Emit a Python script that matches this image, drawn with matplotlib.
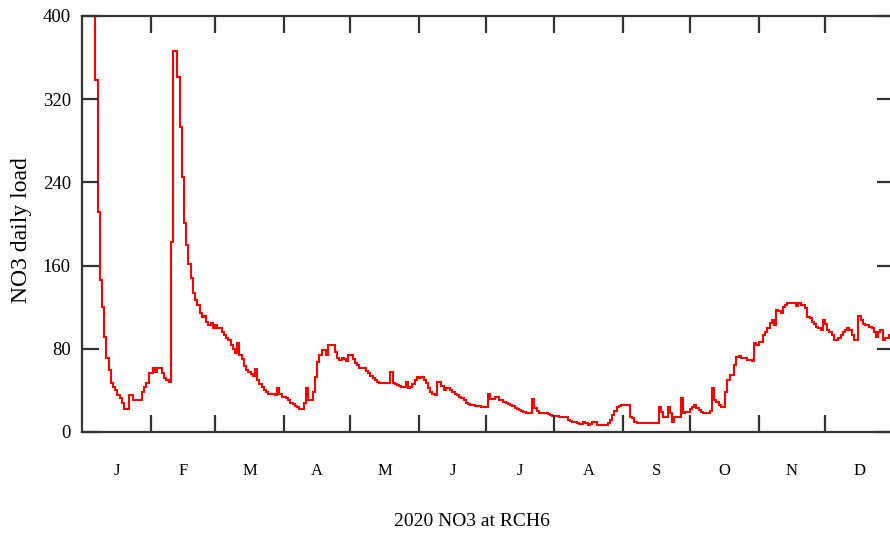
import numpy as np
import matplotlib
matplotlib.use("Agg")
import matplotlib.pyplot as plt

plt.rcParams['font.family'] = ['Liberation Serif', 'DejaVu Serif']

# daily NO3 load at RCH6, 2020 (values >400 are clipped)
jan = [620, 560, 510, 470, 440, 410, 338, 212, 146, 120, 91, 71, 60, 47, 43, 40,
       36, 33, 28, 22, 22, 36, 36, 31, 31, 31, 31, 38, 43, 47, 57]
feb = [57, 62, 58, 62, 62, 57, 52, 50, 48, 183, 366, 366, 341, 293, 245, 201,
       180, 162, 148, 134, 127, 122, 114, 111, 112, 106, 103, 105, 100]
mar = [103, 100, 100, 96, 93, 90, 88, 84, 80, 76, 86, 74, 70, 63, 60, 58, 56,
       54, 61, 50, 46, 43, 40, 38, 37, 37, 37, 36, 42, 37, 34]
apr = [34, 33, 31, 28, 27, 25, 24, 22, 22, 28, 42, 31, 31, 38, 53, 67, 74, 79,
       79, 74, 84, 84, 84, 77, 71, 69, 71, 70, 68, 74]
may = [74, 70, 66, 64, 62, 62, 62, 59, 57, 54, 52, 50, 48, 47, 47, 47, 47, 47,
       58, 47, 46, 45, 44, 43, 43, 48, 42, 43, 46, 50, 53]
jun = [52, 53, 50, 47, 42, 38, 37, 36, 48, 48, 44, 40, 42, 42, 40, 38, 37, 36,
       34, 33, 31, 28, 27, 26, 26, 25, 25, 25, 24, 24]
jul = [24, 37, 32, 32, 34, 34, 31, 31, 29, 28, 27, 26, 25, 23, 22, 21, 20, 19,
       18, 18, 18, 32, 23, 20, 18, 18, 18, 18, 17, 16, 15]
aug = [15, 15, 14, 14, 14, 14, 12, 11, 10, 10, 9, 8, 8, 10, 9, 7, 8, 10, 10, 7,
       7, 7, 7, 7, 9, 12, 16, 20, 24, 25, 26]
sep = [26, 26, 26, 14, 13, 10, 9, 9, 9, 9, 9, 9, 9, 9, 9, 9, 24, 19, 14, 14, 24,
       18, 10, 14, 14, 14, 33, 18, 19, 19]
oct_ = [22, 24, 26, 23, 21, 19, 18, 18, 18, 20, 42, 31, 29, 26, 24, 24, 38, 50,
        55, 55, 64, 72, 73, 71, 71, 71, 69, 69, 68, 86, 84]
nov = [87, 87, 93, 96, 100, 105, 108, 103, 117, 116, 114, 120, 122, 124, 124,
       124, 124, 121, 124, 122, 122, 119, 111, 110, 106, 104, 101, 100, 98, 108]
dec = [104, 98, 96, 93, 88, 88, 90, 93, 96, 98, 100, 98, 93, 88, 88, 112, 108,
       104, 103, 103, 101, 100, 96, 91, 96, 98, 88, 90, 90, 93, 93]

months = [jan, feb, mar, apr, may, jun, jul, aug, sep, oct_, nov, dec]
month_labels = ['J', 'F', 'M', 'A', 'M', 'J', 'J', 'A', 'S', 'O', 'N', 'D']
y_ticks = [0, 80, 160, 240, 320, 400]

load = np.concatenate(months)
ndays = len(load)
month_len = [len(m) for m in months]
bounds = np.concatenate([[0], np.cumsum(month_len)])
mids = (bounds[:-1] + bounds[1:]) / 2

fig = plt.figure(figsize=(8.9, 5.38), dpi=100)
ax = fig.add_axes([82 / 890, 106 / 538, (893.8 - 82) / 890, 416 / 538])

ax.stairs(load, np.arange(ndays + 1), color='#ff0000', lw=1.5, baseline=None)

ax.set_xlim(0, ndays)
ax.set_ylim(0, 400)

# month boundaries as ticks, month letters centred in between
ax.set_xticks(bounds[1:-1])
ax.set_xticklabels([])
ax.set_xticks(mids, minor=True)
ax.set_xticklabels(month_labels, minor=True, fontsize=12)
ax.tick_params(axis='x', which='major', direction='in', length=12, width=1.6,
               top=True, bottom=True, color='#333333')
ax.tick_params(axis='x', which='minor', length=0, pad=22)

ax.set_yticks(y_ticks)
ax.set_yticklabels([str(v) for v in y_ticks], fontsize=13.5)
ax.tick_params(axis='y', direction='in', length=12, width=1.6, left=True,
               right=True, color='#333333', pad=8)

for s in ax.spines.values():
    s.set_color('#333333')
    s.set_linewidth(1.6)

fig.text(22 / 890, 1 - 230 / 538, 'NO3 daily load', rotation=90,
         ha='center', va='center', fontsize=17)
fig.text(471.5 / 890, 1 - 521 / 538, '2020 NO3 at RCH6',
         ha='center', va='center', fontsize=14)

fig.savefig('out.png', dpi=100)
